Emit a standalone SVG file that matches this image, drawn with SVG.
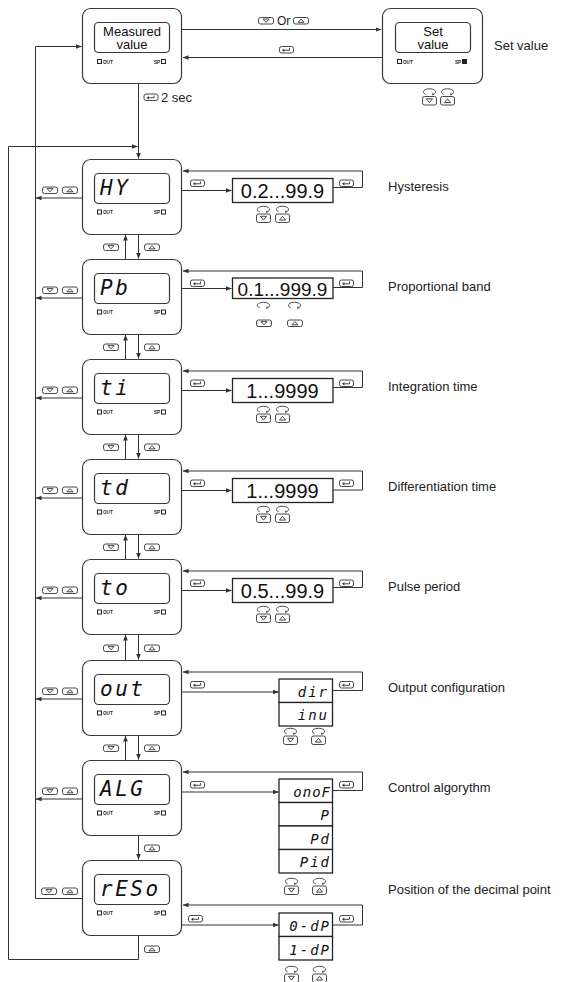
<svg xmlns="http://www.w3.org/2000/svg" xmlns:xlink="http://www.w3.org/1999/xlink" width="565" height="982" viewBox="0 0 565 982">
<style>
.outer{fill:#fff;stroke:#3a3a3a;stroke-width:1.2}
.disp{fill:#fff;stroke:#3a3a3a;stroke-width:1.2}
.led{fill:#fff;stroke:#222;stroke-width:1}
.ledon{fill:#222;stroke:#222;stroke-width:1}
.tiny{font-family:"Liberation Sans",Arial,sans-serif;font-size:4.6px;font-weight:bold;fill:#222}
.seg{font-family:"DejaVu Sans Mono",monospace;font-style:italic;font-size:21px;letter-spacing:2.5px;fill:#111}
.segs{font-family:"DejaVu Sans Mono",monospace;font-style:italic;font-size:14px;letter-spacing:2px;fill:#111;text-anchor:end}
.mv{font-family:"Liberation Sans",Arial,sans-serif;font-size:13px;fill:#111;text-anchor:middle}
.lbl{font-family:"Liberation Sans",Arial,sans-serif;font-size:13px;fill:#222}
.val{font-family:"Liberation Sans",Arial,sans-serif;font-size:20px;fill:#111;text-anchor:middle}
.vbox{fill:#fff;stroke:#222;stroke-width:1.3}
.ln{fill:none;stroke:#333;stroke-width:1}
.ic{fill:#fff;stroke:#333;stroke-width:0.9}
.icl{fill:none;stroke:#333;stroke-width:0.9}
</style>
<defs>
<marker id="ah" markerUnits="userSpaceOnUse" markerWidth="7" markerHeight="7" refX="5.5" refY="3" orient="auto">
<path d="M0,0.7 L5.8,3 L0,5.3Z" fill="#333"/>
</marker>
<g id="ent"><rect class="ic" x="0.5" y="0.5" width="14" height="6.5" rx="2"/><path class="icl" d="M10.5,2 V4.3 H5.2" stroke-width="1.1"/><path d="M5.4,2.6 L3,4.3 L5.4,6Z" fill="#333"/></g>
<g id="bdn"><rect class="ic" x="0.5" y="0.5" width="15" height="6.5" rx="2"/><path class="icl" d="M5,2.1 H11 L8,5.3Z" stroke-width="0.8"/></g>
<g id="bup"><rect class="ic" x="0.5" y="0.5" width="15" height="6.5" rx="2"/><path class="icl" d="M5,5.3 H11 L8,2.1Z" stroke-width="0.8"/></g>
<g id="lp"><path class="icl" d="M3.6,6.2 C0,5.2 0.6,0.8 7.5,0.8 C14.4,0.8 15,5.2 11.4,6.2"/><path d="M10.2,4.9 L12.3,6.3 L10.3,7.4Z" fill="#333"/></g>
<g id="ldn"><use xlink:href="#lp"/><rect class="ic" x="0.5" y="8.5" width="14" height="8.5" rx="2"/><path class="icl" d="M4.5,10.8 H10.5 L7.5,14.6Z" stroke-width="0.8"/></g>
<g id="lup"><use xlink:href="#lp"/><rect class="ic" x="0.5" y="8.5" width="14" height="8.5" rx="2"/><path class="icl" d="M4.5,14.6 H10.5 L7.5,10.8Z" stroke-width="0.8"/></g>
</defs>
<rect width="565" height="982" fill="#fff"/>

<g id="connectors">
<path class="ln" d="M182,29.5 H381" marker-end="url(#ah)"/>
<path class="ln" d="M382,57.5 H183" marker-end="url(#ah)"/>
<path class="ln" d="M138.5,84 V158.5" marker-end="url(#ah)"/>
<path class="ln" d="M138.5,935.5 V959.5 H8.5 V146.5 H137.5" marker-end="url(#ah)"/>
<path class="ln" d="M82,898.5 H35.5 V46.5 H81.5" marker-end="url(#ah)"/>
<path class="ln" d="M82,198 H36" marker-end="url(#ah)"/>
<path class="ln" d="M82,298 H36" marker-end="url(#ah)"/>
<path class="ln" d="M82,398 H36" marker-end="url(#ah)"/>
<path class="ln" d="M82,498 H36" marker-end="url(#ah)"/>
<path class="ln" d="M82,598 H36" marker-end="url(#ah)"/>
<path class="ln" d="M82,699 H36" marker-end="url(#ah)"/>
<path class="ln" d="M82,799 H36" marker-end="url(#ah)"/>
<path class="ln" d="M125.5,259.5 V235" marker-end="url(#ah)"/>
<path class="ln" d="M138.5,234.5 V258.5" marker-end="url(#ah)"/>
<path class="ln" d="M125.5,359.5 V335" marker-end="url(#ah)"/>
<path class="ln" d="M138.5,334.5 V358.5" marker-end="url(#ah)"/>
<path class="ln" d="M125.5,459.5 V435" marker-end="url(#ah)"/>
<path class="ln" d="M138.5,434.5 V458.5" marker-end="url(#ah)"/>
<path class="ln" d="M125.5,559.5 V535" marker-end="url(#ah)"/>
<path class="ln" d="M138.5,534.5 V558.5" marker-end="url(#ah)"/>
<path class="ln" d="M125.5,660.5 V635" marker-end="url(#ah)"/>
<path class="ln" d="M138.5,634.5 V659.5" marker-end="url(#ah)"/>
<path class="ln" d="M125.5,760.5 V736" marker-end="url(#ah)"/>
<path class="ln" d="M138.5,735.5 V759.5" marker-end="url(#ah)"/>
<path class="ln" d="M138.5,835.5 V859.5" marker-end="url(#ah)"/>
<path class="ln" d="M333,187.5 H362.5 V171 H183" marker-end="url(#ah)"/>
<path class="ln" d="M182,190.5 H231.5" marker-end="url(#ah)"/>
<path class="ln" d="M333,287.5 H362.5 V271 H183" marker-end="url(#ah)"/>
<path class="ln" d="M182,288.5 H231.5" marker-end="url(#ah)"/>
<path class="ln" d="M333,387.5 H362.5 V371 H183" marker-end="url(#ah)"/>
<path class="ln" d="M182,390.5 H231.5" marker-end="url(#ah)"/>
<path class="ln" d="M333,490 H362.5 V471 H183" marker-end="url(#ah)"/>
<path class="ln" d="M182,490.5 H231.5" marker-end="url(#ah)"/>
<path class="ln" d="M333,587.5 H362.5 V571 H183" marker-end="url(#ah)"/>
<path class="ln" d="M182,590.5 H231.5" marker-end="url(#ah)"/>
<path class="ln" d="M332.5,690.5 H362.5 V672 H183" marker-end="url(#ah)"/>
<path class="ln" d="M182,692 H278.5" marker-end="url(#ah)"/>
<path class="ln" d="M332.5,790.5 H362.5 V772 H183" marker-end="url(#ah)"/>
<path class="ln" d="M182,792 H278.5" marker-end="url(#ah)"/>
<path class="ln" d="M332.5,925 H362.5 V905 H183" marker-end="url(#ah)"/>
<path class="ln" d="M182,925 H278.5" marker-end="url(#ah)"/>
<use xlink:href="#bdn" x="258" y="17"/>
<text class="lbl" x="277" y="24.5" style="font-size:12px">Or</text>
<use xlink:href="#bup" x="293" y="17"/>
<use xlink:href="#ent" x="279" y="46"/>
<use xlink:href="#ent" x="143.5" y="93.5"/>
<text class="lbl" x="161" y="101.5">2 sec</text>
</g>

<g id="n-measured">
<rect class="outer" x="82.5" y="8.5" width="99" height="75" rx="8"/>
<rect class="disp" x="94.5" y="22.5" width="75" height="30" rx="4"/>
<text class="mv" x="132" y="35.5">Measured</text>
<text class="mv" x="132" y="49">value</text>
<rect class="led" x="97.5" y="59.5" width="4" height="4"/><text class="tiny" x="103" y="63.5">OUT</text>
<text class="tiny" x="154" y="63.5">SP</text><rect class="led" x="161.5" y="59.5" width="4" height="4"/>
</g>

<g id="n-set">
<rect class="outer" x="382.5" y="8.5" width="100" height="75" rx="8"/>
<rect class="disp" x="395.5" y="22.5" width="75" height="30" rx="4"/>
<text class="mv" x="433" y="35.5">Set</text>
<text class="mv" x="433" y="49">value</text>
<rect class="led" x="397.5" y="59.5" width="4" height="4"/><text class="tiny" x="403" y="63.5">OUT</text>
<text class="tiny" x="455" y="63.5">SP</text><rect class="ledon" x="462.5" y="59.5" width="4" height="4"/>
<use xlink:href="#ldn" x="422" y="88"/>
<use xlink:href="#lup" x="440" y="88"/>
<text class="lbl" x="494" y="50">Set value</text>
</g>

<g id="n-hy" transform="translate(0,159.5)">
<rect class="outer" x="82.5" y="0" width="99" height="75" rx="8"/>
<rect class="disp" x="94.5" y="14" width="75" height="30" rx="4"/>
<text class="seg" x="100" y="35">HY</text>
<rect class="led" x="97.5" y="50.5" width="4" height="4"/><text class="tiny" x="103" y="54.5">OUT</text>
<text class="tiny" x="154" y="54.5">SP</text><rect class="led" x="161.5" y="50.5" width="4" height="4"/>
<use xlink:href="#bdn" x="42" y="27"/><use xlink:href="#bup" x="62" y="27"/>
<use xlink:href="#bdn" x="103" y="84"/><use xlink:href="#bup" x="144" y="84"/>
<use xlink:href="#ent" x="190" y="20"/><use xlink:href="#ent" x="339" y="20"/>
<rect class="vbox" x="232.5" y="19" width="100.5" height="24"/>
<text class="val" x="282.5" y="38.5">0.2...99.9</text>
<use xlink:href="#ldn" x="256" y="46"/><use xlink:href="#lup" x="275" y="46"/>
<text class="lbl" x="388" y="31">Hysteresis</text>
</g>

<g id="n-pb" transform="translate(0,259.5)">
<rect class="outer" x="82.5" y="0" width="99" height="75" rx="8"/>
<rect class="disp" x="94.5" y="14" width="75" height="30" rx="4"/>
<text class="seg" x="100" y="35">Pb</text>
<rect class="led" x="97.5" y="50.5" width="4" height="4"/><text class="tiny" x="103" y="54.5">OUT</text>
<text class="tiny" x="154" y="54.5">SP</text><rect class="led" x="161.5" y="50.5" width="4" height="4"/>
<use xlink:href="#bdn" x="42" y="27"/><use xlink:href="#bup" x="62" y="27"/>
<use xlink:href="#bdn" x="103" y="84"/><use xlink:href="#bup" x="144" y="84"/>
<use xlink:href="#ent" x="190" y="20"/><use xlink:href="#ent" x="339" y="20"/>
<rect class="vbox" x="232.5" y="18.5" width="100.5" height="20.5"/>
<text class="val" x="282.5" y="36" style="font-size:19px">0.1...999.9</text>
<use xlink:href="#lp" x="256" y="42"/><use xlink:href="#lp" x="287" y="42"/>
<use xlink:href="#bdn" x="256" y="60"/><use xlink:href="#bup" x="287" y="60"/>
<text class="lbl" x="388" y="31">Proportional band</text>
</g>

<g id="n-ti" transform="translate(0,359.5)">
<rect class="outer" x="82.5" y="0" width="99" height="75" rx="8"/>
<rect class="disp" x="94.5" y="14" width="75" height="30" rx="4"/>
<text class="seg" x="100" y="35">ti</text>
<rect class="led" x="97.5" y="50.5" width="4" height="4"/><text class="tiny" x="103" y="54.5">OUT</text>
<text class="tiny" x="154" y="54.5">SP</text><rect class="led" x="161.5" y="50.5" width="4" height="4"/>
<use xlink:href="#bdn" x="42" y="27"/><use xlink:href="#bup" x="62" y="27"/>
<use xlink:href="#bdn" x="103" y="84"/><use xlink:href="#bup" x="144" y="84"/>
<use xlink:href="#ent" x="190" y="20"/><use xlink:href="#ent" x="339" y="20"/>
<rect class="vbox" x="232.5" y="19" width="100.5" height="24"/>
<text class="val" x="282.5" y="38.5">1...9999</text>
<use xlink:href="#ldn" x="256" y="46"/><use xlink:href="#lup" x="275" y="46"/>
<text class="lbl" x="388" y="31">Integration time</text>
</g>

<g id="n-td" transform="translate(0,459.5)">
<rect class="outer" x="82.5" y="0" width="99" height="75" rx="8"/>
<rect class="disp" x="94.5" y="14" width="75" height="30" rx="4"/>
<text class="seg" x="100" y="35">td</text>
<rect class="led" x="97.5" y="50.5" width="4" height="4"/><text class="tiny" x="103" y="54.5">OUT</text>
<text class="tiny" x="154" y="54.5">SP</text><rect class="led" x="161.5" y="50.5" width="4" height="4"/>
<use xlink:href="#bdn" x="42" y="27"/><use xlink:href="#bup" x="62" y="27"/>
<use xlink:href="#bdn" x="103" y="84"/><use xlink:href="#bup" x="144" y="84"/>
<use xlink:href="#ent" x="190" y="20"/><use xlink:href="#ent" x="339" y="20"/>
<rect class="vbox" x="232.5" y="19" width="100.5" height="24"/>
<text class="val" x="282.5" y="38.5">1...9999</text>
<use xlink:href="#ldn" x="256" y="46"/><use xlink:href="#lup" x="275" y="46"/>
<text class="lbl" x="388" y="31">Differentiation time</text>
</g>

<g id="n-to" transform="translate(0,559.5)">
<rect class="outer" x="82.5" y="0" width="99" height="75" rx="8"/>
<rect class="disp" x="94.5" y="14" width="75" height="30" rx="4"/>
<text class="seg" x="100" y="35">to</text>
<rect class="led" x="97.5" y="50.5" width="4" height="4"/><text class="tiny" x="103" y="54.5">OUT</text>
<text class="tiny" x="154" y="54.5">SP</text><rect class="led" x="161.5" y="50.5" width="4" height="4"/>
<use xlink:href="#bdn" x="42" y="27"/><use xlink:href="#bup" x="62" y="27"/>
<use xlink:href="#bdn" x="103" y="85"/><use xlink:href="#bup" x="144" y="85"/>
<use xlink:href="#ent" x="190" y="20"/><use xlink:href="#ent" x="339" y="20"/>
<rect class="vbox" x="232.5" y="19" width="100.5" height="24"/>
<text class="val" x="282.5" y="38.5">0.5...99.9</text>
<use xlink:href="#ldn" x="256" y="46"/><use xlink:href="#lup" x="275" y="46"/>
<text class="lbl" x="388" y="31">Pulse period</text>
</g>

<g id="n-out" transform="translate(0,660.5)">
<rect class="outer" x="82.5" y="0" width="99" height="75" rx="8"/>
<rect class="disp" x="94.5" y="14" width="75" height="30" rx="4"/>
<text class="seg" x="100" y="35">out</text>
<rect class="led" x="97.5" y="50.5" width="4" height="4"/><text class="tiny" x="103" y="54.5">OUT</text>
<text class="tiny" x="154" y="54.5">SP</text><rect class="led" x="161.5" y="50.5" width="4" height="4"/>
<use xlink:href="#bdn" x="42" y="27"/><use xlink:href="#bup" x="62" y="27"/>
<use xlink:href="#bdn" x="103" y="84"/><use xlink:href="#bup" x="144" y="84"/>
<use xlink:href="#ent" x="190" y="20.5"/><use xlink:href="#ent" x="339" y="20.5"/>
<rect class="vbox" x="279" y="18.5" width="53.5" height="23.5"/>
<rect class="vbox" x="279" y="42" width="53.5" height="23.5"/>
<text class="segs" x="329" y="36">dir</text>
<text class="segs" x="329" y="59.5">inu</text>
<use xlink:href="#ldn" x="283" y="67"/><use xlink:href="#lup" x="311" y="67"/>
<text class="lbl" x="388" y="31">Output configuration</text>
</g>

<g id="n-alg" transform="translate(0,760.5)">
<rect class="outer" x="82.5" y="0" width="99" height="75" rx="8"/>
<rect class="disp" x="94.5" y="14" width="75" height="30" rx="4"/>
<text class="seg" x="100" y="35">ALG</text>
<rect class="led" x="97.5" y="50.5" width="4" height="4"/><text class="tiny" x="103" y="54.5">OUT</text>
<text class="tiny" x="154" y="54.5">SP</text><rect class="led" x="161.5" y="50.5" width="4" height="4"/>
<use xlink:href="#bdn" x="42" y="27"/><use xlink:href="#bup" x="62" y="27"/>
<use xlink:href="#bup" x="144" y="84"/>
<use xlink:href="#ent" x="190" y="20.5"/><use xlink:href="#ent" x="339" y="20.5"/>
<rect class="vbox" x="279" y="18.5" width="53.5" height="23.5"/>
<rect class="vbox" x="279" y="42" width="53.5" height="23.5"/>
<rect class="vbox" x="279" y="65.5" width="53.5" height="23.5"/>
<rect class="vbox" x="279" y="89" width="53.5" height="23.5"/>
<text class="segs" x="331" y="36" style="letter-spacing:1px">onoF</text>
<rect x="303.5" y="34" width="1.6" height="1.6" fill="#111"/>
<text class="segs" x="331" y="59.5">P</text>
<text class="segs" x="331" y="83">Pd</text>
<text class="segs" x="331" y="106.5">Pid</text>
<use xlink:href="#ldn" x="284" y="117"/><use xlink:href="#lup" x="312" y="117"/>
<text class="lbl" x="388" y="31">Control algorythm</text>
</g>

<g id="n-reso" transform="translate(0,860.5)">
<rect class="outer" x="82.5" y="0" width="99" height="75" rx="8"/>
<rect class="disp" x="94.5" y="14" width="75" height="30" rx="4"/>
<text class="seg" x="100" y="35">rESo</text>
<rect class="led" x="97.5" y="50.5" width="4" height="4"/><text class="tiny" x="103" y="54.5">OUT</text>
<text class="tiny" x="154" y="54.5">SP</text><rect class="led" x="161.5" y="50.5" width="4" height="4"/>
<use xlink:href="#bdn" x="41" y="27"/><use xlink:href="#bup" x="62" y="27"/>
<use xlink:href="#bup" x="144" y="85"/>
<use xlink:href="#ent" x="188" y="54.5"/><use xlink:href="#ent" x="339" y="54.5"/>
<rect class="vbox" x="279" y="52.5" width="53.5" height="23.5"/>
<rect class="vbox" x="279" y="76" width="53.5" height="23.5"/>
<text class="segs" x="331" y="70.5">0-dP</text>
<text class="segs" x="331" y="94">1-dP</text>
<use xlink:href="#ldn" x="284" y="105"/><use xlink:href="#lup" x="312" y="105"/>
<text class="lbl" x="388" y="33">Position of the decimal point</text>
</g>
</svg>
